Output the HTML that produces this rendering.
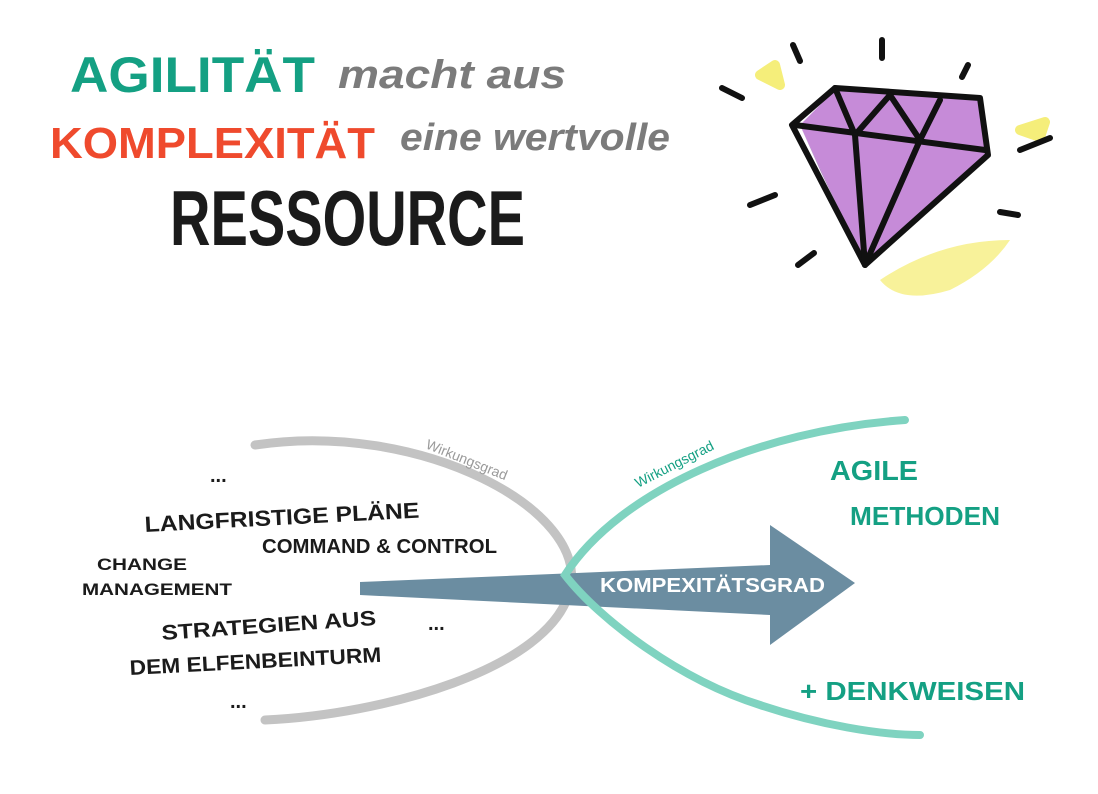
<!DOCTYPE html>
<html><head><meta charset="utf-8"><style>
html,body{margin:0;padding:0;background:#fff;}
svg{display:block}
.h{font-family:"Liberation Sans",sans-serif;font-weight:bold;}
</style></head><body>
<svg width="1098" height="794" viewBox="0 0 1098 794" xmlns="http://www.w3.org/2000/svg">
<!-- title -->
<text x="70" y="92" class="h" font-size="50" fill="#14a083" textLength="245" lengthAdjust="spacingAndGlyphs">AGILITÄT</text>
<text x="338" y="88" class="h" font-style="italic" font-size="40" fill="#7b7b7b" textLength="228" lengthAdjust="spacingAndGlyphs">macht aus</text>
<text x="50" y="158" class="h" font-size="44" fill="#ef4a2d" textLength="325" lengthAdjust="spacingAndGlyphs">KOMPLEXITÄT</text>
<text x="400" y="150" class="h" font-style="italic" font-size="38" fill="#7b7b7b" textLength="270" lengthAdjust="spacingAndGlyphs">eine wertvolle</text>
<text x="170" y="245" class="h" font-size="78" fill="#1b1b1b" textLength="355" lengthAdjust="spacingAndGlyphs">RESSOURCE</text>

<!-- diamond -->
<g stroke-linecap="round" stroke-linejoin="round">
<path d="M760 75 l15 -10 l5 20 z M1020 130 l25 -8 l-5 15 z" fill="#f5ee7a" stroke="#f5ee7a" stroke-width="10"/>
<path d="M880 280 q60 -40 130 -40 q-20 30 -60 50 q-50 15 -70 -10z" fill="#f8f29a"/>
<path d="M800 125 L835 90 L980 100 L985 155 L865 265 Z" fill="#c68bd8"/>
<path d="M800 125 L865 265 L820 170 Z" fill="#7d3fa0" opacity=".6"/>
<g fill="none" stroke="#111" stroke-width="6">
<path d="M792 125 L835 88 L980 98 L988 155 L865 265 Z"/>
<path d="M795 125 L985 150"/>
<path d="M835 88 L855 135 L890 95 L920 140 L940 100"/>
<path d="M855 135 L865 265 L920 140"/>
<path d="M722 88 l20 10 M793 45 l7 16 M882 40 l0 18 M968 65 l-6 12 M1020 150 l30 -12 M750 205 l25 -10 M798 265 l16 -12 M1000 212 l18 3"/>
</g></g>

<!-- curves -->
<path d="M255 445 C420 420 590 510 570 590 C550 670 380 715 265 720" fill="none" stroke="#c3c3c3" stroke-width="9" stroke-linecap="round"/>
<path d="M360 582 L770 565 L770 525 L855 583 L770 645 L770 615 L360 595 Z" fill="#6b8da1"/>
<path d="M905 420 C760 430 620 490 565 575 C600 620 680 680 760 705 C820 725 880 735 920 735" fill="none" stroke="#7fd3c0" stroke-width="8" stroke-linecap="round"/>
<text x="600" y="592" class="h" font-size="20" fill="#fff" textLength="225" lengthAdjust="spacingAndGlyphs">KOMPEXITÄTSGRAD</text>
<text transform="translate(425,448) rotate(22)" font-family="Liberation Sans,sans-serif" font-size="14" fill="#9a9a9a">Wirkungsgrad</text>
<text transform="translate(638,488) rotate(-27)" font-family="Liberation Sans,sans-serif" font-size="14" fill="#14a083">Wirkungsgrad</text>

<!-- left texts -->
<g class="h" fill="#1b1b1b">
<text x="210" y="482" font-size="20">...</text>
<text x="145" y="532" font-size="22" textLength="275" lengthAdjust="spacingAndGlyphs" transform="rotate(-3 145 532)">LANGFRISTIGE PLÄNE</text>
<text x="262" y="553" font-size="20" textLength="235" lengthAdjust="spacingAndGlyphs">COMMAND &amp; CONTROL</text>
<text x="97" y="570" font-size="17" textLength="90" lengthAdjust="spacingAndGlyphs">CHANGE</text>
<text x="82" y="595" font-size="17" textLength="150" lengthAdjust="spacingAndGlyphs">MANAGEMENT</text>
<text x="162" y="640" font-size="21" textLength="215" lengthAdjust="spacingAndGlyphs" transform="rotate(-4 162 640)">STRATEGIEN AUS</text>
<text x="428" y="630" font-size="20">...</text>
<text x="130" y="675" font-size="21" textLength="252" lengthAdjust="spacingAndGlyphs" transform="rotate(-3 130 675)">DEM ELFENBEINTURM</text>
<text x="230" y="708" font-size="20">...</text>
</g>
<g class="h" fill="#14a083">
<text x="830" y="480" font-size="28" textLength="88" lengthAdjust="spacingAndGlyphs">AGILE</text>
<text x="850" y="525" font-size="26" textLength="150" lengthAdjust="spacingAndGlyphs">METHODEN</text>
<text x="800" y="700" font-size="26" textLength="225" lengthAdjust="spacingAndGlyphs">+ DENKWEISEN</text>
</g>
</svg>
</body></html>
